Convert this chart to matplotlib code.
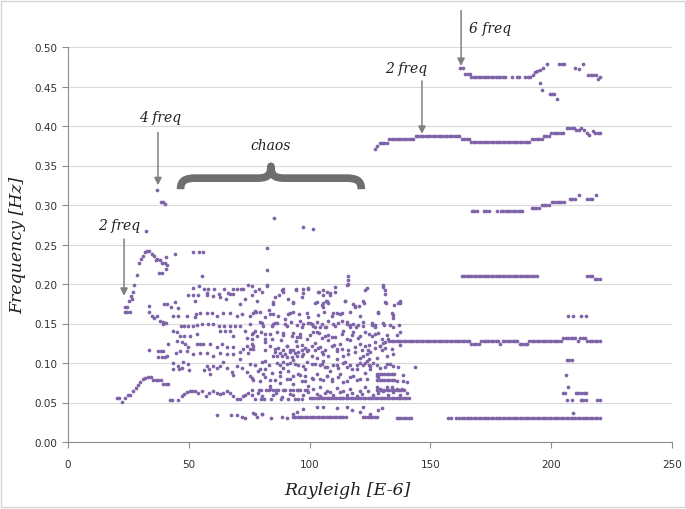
import numpy as np
import matplotlib
matplotlib.use("Agg")
import matplotlib.pyplot as plt
from matplotlib.path import Path
from matplotlib.patches import PathPatch, Rectangle

# ---------------- data (Rayleigh [E-6], Frequency [Hz]) ----------------
low_branch = [(20.1, 0.0555), (21.2, 0.0555), (22.5, 0.051), (23.6, 0.056), (24.7, 0.059),
              (25.7, 0.060), (27.0, 0.064), (28.1, 0.068), (29.0, 0.072), (29.8, 0.076),
              (30.9, 0.080), (31.9, 0.0815), (33.0, 0.082), (34.4, 0.082), (35.3, 0.079),
              (36.4, 0.079), (37.4, 0.079), (38.5, 0.078), (39.4, 0.074), (40.4, 0.074),
              (41.4, 0.0735)]

two_freq_branch = [(23.6, 0.164), (24.6, 0.164), (25.6, 0.164), (23.6, 0.171), (24.6, 0.171),
                   (25.1, 0.179), (25.9, 0.185), (26.5, 0.181), (26.8, 0.190), (27.5, 0.199),
                   (28.4, 0.211), (29.5, 0.226), (30.1, 0.232), (30.9, 0.236), (31.7, 0.240),
                   (32.6, 0.242), (33.7, 0.242), (34.6, 0.238), (35.6, 0.235), (36.4, 0.230),
                   (37.0, 0.232), (38.1, 0.230), (38.9, 0.227), (40.0, 0.226), (40.8, 0.224),
                   (40.6, 0.234), (37.8, 0.214), (38.9, 0.214), (40.7, 0.219), (44.4, 0.238),
                   (32.3, 0.267)]

four_freq_pts = [(36.7, 0.319), (38.4, 0.304), (39.2, 0.304), (40.3, 0.301)]

chaos_a = [(33.7, 0.1725), (33.7, 0.164), (34.6, 0.160), (35.6, 0.157), (36.9, 0.159), (38.0, 0.153),
           (39.2, 0.152), (40.4, 0.151), (51.6, 0.241), (54.3, 0.241), (55.7, 0.241), (55.6, 0.210),
           (51.6, 0.195), (54.4, 0.197), (56.3, 0.1935), (57.4, 0.189), (58.1, 0.1935), (60.5, 0.1935),
           (62.7, 0.187), (64.6, 0.1935), (66.4, 0.189), (68.5, 0.1935), (69.8, 0.1935), (71.5, 0.1935),
           (72.6, 0.1935), (74.7, 0.1985), (76.0, 0.197), (77.4, 0.191), (79.2, 0.1935),
           (39.7, 0.1745), (41.1, 0.1745), (42.5, 0.171), (44.3, 0.1775), (45.7, 0.170), (49.8, 0.186),
           (51.9, 0.186), (52.6, 0.179), (54.0, 0.186), (57.4, 0.186), (60.2, 0.185), (63.0, 0.183),
           (65.4, 0.181), (67.1, 0.187), (68.5, 0.187), (71.2, 0.1745), (73.3, 0.181), (76.0, 0.186),
           (77.4, 0.166), (43.6, 0.160), (45.7, 0.160), (49.1, 0.160), (52.6, 0.158), (53.0, 0.162),
           (54.7, 0.163), (57.4, 0.163), (59.5, 0.163), (61.6, 0.160), (64.3, 0.163), (67.1, 0.163),
           (69.8, 0.160), (71.9, 0.162), (75.3, 0.160), (77.8, 0.164), (39.5, 0.149), (46.6, 0.147),
           (48.0, 0.147), (49.8, 0.147), (51.6, 0.147), (53.6, 0.148), (55.4, 0.150), (58.1, 0.150),
           (60.2, 0.150), (62.7, 0.147), (64.6, 0.147), (67.1, 0.147), (69.1, 0.147), (71.2, 0.147),
           (73.3, 0.141), (76.0, 0.1365), (43.6, 0.141), (45.0, 0.139), (46.4, 0.134), (48.0, 0.134),
           (50.5, 0.134), (53.3, 0.1365), (63.0, 0.141), (65.0, 0.141), (67.1, 0.141), (68.5, 0.134),
           (74.0, 0.132), (76.0, 0.130), (78.1, 0.134), (41.5, 0.124), (45.0, 0.128), (47.1, 0.126),
           (48.4, 0.124), (49.8, 0.120), (53.3, 0.124), (54.7, 0.124), (56.0, 0.124), (58.8, 0.124),
           (61.6, 0.120), (63.6, 0.124), (65.7, 0.120), (68.5, 0.120), (71.2, 0.1135), (72.6, 0.1175),
           (74.0, 0.122), (76.0, 0.124), (33.7, 0.116), (37.4, 0.115), (38.4, 0.115), (39.5, 0.115),
           (40.9, 0.109), (44.7, 0.113), (46.4, 0.115), (49.1, 0.115), (51.9, 0.111), (54.7, 0.113),
           (57.4, 0.113), (60.2, 0.109), (63.0, 0.113), (65.7, 0.111), (68.5, 0.111), (71.2, 0.105),
           (74.7, 0.113), (76.7, 0.1175), (37.4, 0.108), (38.8, 0.108), (40.2, 0.108), (43.6, 0.1005),
           (45.7, 0.0965), (47.7, 0.1015), (49.8, 0.0985), (57.4, 0.0965), (58.5, 0.092), (60.2, 0.0965),
           (63.0, 0.0965), (65.7, 0.094), (67.8, 0.089), (69.8, 0.0965), (71.9, 0.094), (74.0, 0.088),
           (77.4, 0.097), (78.8, 0.090), (43.6, 0.092), (45.8, 0.092), (47.1, 0.094), (50.2, 0.091),
           (56.3, 0.091), (58.8, 0.086), (61.6, 0.094), (64.3, 0.1015), (68.5, 0.085), (76.0, 0.0815),
           (42.2, 0.053), (43.2, 0.053), (45.7, 0.053), (47.1, 0.0585), (48.0, 0.0605), (49.4, 0.0635),
           (50.3, 0.065), (51.2, 0.065), (52.6, 0.065), (54.0, 0.0625), (55.4, 0.065), (57.1, 0.0585),
           (58.5, 0.0625), (59.9, 0.065), (61.6, 0.0625), (63.0, 0.0605), (64.3, 0.0625), (65.7, 0.065),
           (67.1, 0.0625), (68.5, 0.0585), (69.8, 0.054), (71.2, 0.054), (72.3, 0.0585), (73.3, 0.059),
           (74.7, 0.0625), (76.0, 0.066), (77.4, 0.054), (78.8, 0.0625), (61.6, 0.034), (67.3, 0.034),
           (69.8, 0.034), (71.9, 0.032), (73.3, 0.030), (76.7, 0.037), (78.1, 0.032)]

chaos_b = [(85.4, 0.284), (97.4, 0.272), (82.5, 0.245), (82.5, 0.218), (82.5, 0.199),
           (85.7, 0.183), (89.1, 0.1935), (94.4, 0.194), (97.4, 0.1935), (99.5, 0.194), (93.3, 0.177),
           (96.7, 0.183), (84.7, 0.1745), (80.5, 0.190), (87.5, 0.186), (91.0, 0.181),
           (79.5, 0.164), (81.6, 0.158), (85.0, 0.162), (89.8, 0.156), (91.9, 0.163), (95.8, 0.162),
           (98.8, 0.163), (83.0, 0.167), (87.0, 0.160), (80.2, 0.151), (84.3, 0.147), (90.5, 0.147),
           (94.9, 0.148), (99.5, 0.151), (86.5, 0.151), (92.5, 0.152), (97.0, 0.145), (79.8, 0.139),
           (83.6, 0.1365), (86.4, 0.139), (89.1, 0.138), (92.6, 0.134), (96.0, 0.133), (81.5, 0.131),
           (88.0, 0.129), (94.5, 0.128), (81.6, 0.126), (85.7, 0.1175), (87.8, 0.113), (89.8, 0.111),
           (91.9, 0.114), (94.0, 0.113), (95.4, 0.114), (97.4, 0.112), (98.8, 0.115), (83.5, 0.121),
           (90.8, 0.122), (96.7, 0.123), (85.0, 0.109), (86.6, 0.109), (88.4, 0.109), (90.5, 0.108),
           (92.6, 0.108), (94.7, 0.109), (96.7, 0.109), (86.4, 0.100), (89.1, 0.1015), (91.9, 0.100),
           (94.0, 0.0985), (97.4, 0.0965), (98.8, 0.1015), (80.5, 0.101), (83.0, 0.097), (79.5, 0.092),
           (81.6, 0.092), (87.8, 0.088), (91.2, 0.090), (95.4, 0.086), (98.1, 0.083), (84.5, 0.087),
           (93.0, 0.084), (79.5, 0.0775), (83.6, 0.071), (87.8, 0.075), (90.5, 0.0795), (93.3, 0.073),
           (96.7, 0.0775), (99.5, 0.071), (81.5, 0.082), (85.5, 0.079), (80.2, 0.035), (84.0, 0.030),
           (88.5, 0.032), (90.5, 0.030), (97.4, 0.0415), (79.0, 0.0655), (80.0, 0.0655), (82.0, 0.0655),
           (83.0, 0.0655), (85.0, 0.0655), (86.0, 0.0655), (87.0, 0.0655), (89.0, 0.0655), (90.0, 0.0655),
           (92.0, 0.0655), (93.0, 0.0655), (95.0, 0.0655), (96.0, 0.0655), (98.0, 0.0655), (99.0, 0.0655),
           (80.0, 0.054), (81.0, 0.054), (84.0, 0.054), (88.0, 0.054), (91.0, 0.054), (94.0, 0.054),
           (95.0, 0.054), (97.0, 0.054), (85.0, 0.060), (93.0, 0.060)]

chaos_c = [(101.6, 0.269), (115.7, 0.2105), (115.7, 0.2055), (115.7, 0.2004), (110.6, 0.196),
           (123.7, 0.195), (130.3, 0.199), (131.3, 0.192), (103.7, 0.190), (105.4, 0.186), (107.1, 0.190),
           (108.5, 0.186), (102.3, 0.176), (105.4, 0.176), (105.7, 0.1705), (106.8, 0.179), (107.8, 0.176),
           (109.6, 0.163), (111.2, 0.163), (113.3, 0.163), (114.7, 0.179), (117.9, 0.1745), (118.8, 0.1705),
           (120.6, 0.172), (122.6, 0.176), (128.5, 0.163), (131.7, 0.176), (134.0, 0.163), (136.4, 0.176),
           (137.5, 0.176), (134.7, 0.157), (100.9, 0.149), (102.3, 0.145), (104.3, 0.145), (106.8, 0.145),
           (110.6, 0.147), (113.3, 0.153), (115.4, 0.150), (116.8, 0.148), (119.2, 0.145), (122.3, 0.147),
           (125.7, 0.148), (127.1, 0.148), (130.6, 0.148), (134.7, 0.145), (137.2, 0.148), (101.6, 0.139),
           (103.7, 0.138), (106.4, 0.1345), (109.2, 0.1325), (114.0, 0.141), (118.1, 0.139), (120.9, 0.1345),
           (124.4, 0.137), (128.5, 0.138), (132.6, 0.131), (136.1, 0.136), (137.5, 0.139), (102.3, 0.1253),
           (104.3, 0.1203), (107.8, 0.1287), (109.9, 0.1224), (111.2, 0.1181), (112.6, 0.1245),
           (116.8, 0.1287), (118.8, 0.1203), (120.9, 0.1245), (124.4, 0.1224), (127.1, 0.1266),
           (129.2, 0.1215), (131.3, 0.1194), (134.0, 0.1181), (137.5, 0.1224), (100.9, 0.1093),
           (103.0, 0.1059), (105.7, 0.1114), (107.8, 0.1093), (111.2, 0.105), (114.0, 0.1093),
           (116.1, 0.1114), (120.9, 0.1059), (122.3, 0.1093), (123.7, 0.1114), (124.4, 0.105),
           (127.8, 0.1059), (132.0, 0.1093), (102.3, 0.099), (105.0, 0.099), (106.4, 0.0947),
           (108.5, 0.0905), (111.2, 0.0969), (114.0, 0.1002), (115.4, 0.0947), (117.5, 0.0926),
           (119.5, 0.0969), (120.9, 0.1002), (123.0, 0.1002), (124.4, 0.0969), (125.0, 0.0926),
           (127.8, 0.0969), (131.3, 0.0947), (133.3, 0.099), (136.4, 0.0947), (143.7, 0.0947),
           (101.6, 0.0798), (104.3, 0.0798), (107.1, 0.0839), (109.2, 0.0777), (111.9, 0.0819),
           (114.0, 0.0764), (116.8, 0.0819), (119.5, 0.079), (123.7, 0.0798), (127.8, 0.079),
           (128.5, 0.0819), (136.1, 0.0777), (138.8, 0.0777), (140.2, 0.0764), (101.6, 0.0671),
           (104.3, 0.0692), (107.1, 0.065), (108.5, 0.0629), (111.2, 0.068), (114.0, 0.065),
           (116.8, 0.0671), (120.9, 0.065), (123.0, 0.0692), (127.8, 0.0692), (129.2, 0.0671),
           (132.0, 0.0692), (134.0, 0.0692), (136.1, 0.0671), (138.2, 0.0671), (103.0, 0.044),
           (105.7, 0.044), (111.2, 0.043), (115.4, 0.044), (122.3, 0.044), (129.9, 0.043),
           (129.2, 0.122), (130.3, 0.125), (131.2, 0.127)]

chaos_d = [(82.5, 0.197), (88.4, 0.192), (89.1, 0.190), (94.3, 0.193), (97.4, 0.189), (99.5, 0.195),
           (103.6, 0.190), (105.7, 0.192), (108.4, 0.188), (110.5, 0.190), (115.3, 0.199), (122.9, 0.193),
           (130.5, 0.196), (131.2, 0.187), (78.1, 0.178), (85.0, 0.177), (93.2, 0.176), (102.9, 0.177),
           (105.0, 0.173), (107.0, 0.179), (114.6, 0.179), (118.8, 0.172), (122.2, 0.178), (131.2, 0.177),
           (135.0, 0.174), (137.4, 0.179), (76.7, 0.163), (83.6, 0.162), (91.2, 0.162), (93.2, 0.165),
           (99.5, 0.158), (103.6, 0.161), (105.9, 0.164), (109.1, 0.160), (112.6, 0.162), (116.7, 0.165),
           (120.8, 0.160), (128.4, 0.164), (134.6, 0.161), (75.3, 0.150), (79.4, 0.152), (80.8, 0.147),
           (85.0, 0.149), (85.7, 0.151), (89.8, 0.150), (96.0, 0.153), (97.4, 0.149), (100.1, 0.151),
           (101.5, 0.147), (102.9, 0.152), (105.0, 0.150), (106.4, 0.146), (107.7, 0.153), (109.8, 0.149),
           (111.9, 0.151), (115.3, 0.152), (116.7, 0.146), (118.1, 0.150), (120.2, 0.148), (122.2, 0.152),
           (125.7, 0.151), (127.1, 0.146), (130.5, 0.151), (133.3, 0.148), (76.7, 0.138), (77.4, 0.140),
           (81.5, 0.137), (84.3, 0.131), (89.1, 0.135), (93.2, 0.138), (94.6, 0.133), (96.0, 0.137),
           (98.8, 0.131), (100.1, 0.135), (102.9, 0.139), (105.0, 0.132), (107.7, 0.136), (110.5, 0.133),
           (113.3, 0.137), (115.3, 0.130), (117.4, 0.136), (120.2, 0.132), (122.9, 0.139), (125.7, 0.134),
           (127.1, 0.137), (129.8, 0.131), (131.9, 0.136), (75.3, 0.118), (76.7, 0.121), (81.5, 0.116),
           (85.7, 0.114), (87.0, 0.119), (89.1, 0.116), (90.5, 0.121), (91.9, 0.117), (93.2, 0.116),
           (94.6, 0.121), (96.7, 0.116), (98.1, 0.119), (99.5, 0.116), (100.8, 0.122), (102.2, 0.116),
           (103.6, 0.119), (105.0, 0.114), (106.4, 0.116), (109.1, 0.121), (111.2, 0.115), (113.3, 0.118),
           (116.0, 0.116), (118.8, 0.114), (121.5, 0.116), (122.9, 0.121), (124.3, 0.117), (125.0, 0.114),
           (127.1, 0.119), (129.8, 0.116), (134.6, 0.112), (75.3, 0.099), (81.5, 0.103), (87.7, 0.097),
           (89.1, 0.094), (90.5, 0.099), (93.2, 0.104), (95.3, 0.097), (98.1, 0.093), (100.8, 0.099),
           (104.3, 0.097), (105.7, 0.103), (107.0, 0.095), (109.8, 0.098), (111.9, 0.094), (114.6, 0.101),
           (116.7, 0.097), (119.5, 0.093), (122.2, 0.098), (123.6, 0.103), (125.0, 0.096), (126.4, 0.100),
           (129.1, 0.094), (131.9, 0.099), (134.6, 0.096), (75.3, 0.083), (76.7, 0.079), (80.8, 0.086),
           (83.6, 0.078), (87.7, 0.083), (91.9, 0.080), (96.0, 0.085), (98.1, 0.077), (100.8, 0.081),
           (102.9, 0.086), (105.7, 0.078), (107.0, 0.083), (109.1, 0.080), (112.6, 0.086), (115.3, 0.077),
           (118.1, 0.084), (120.8, 0.080), (122.9, 0.087), (127.7, 0.083), (138.8, 0.085), (76.0, 0.060),
           (80.1, 0.058), (83.6, 0.067), (86.0, 0.062), (88.4, 0.057), (91.9, 0.061), (94.6, 0.066),
           (97.4, 0.060), (99.5, 0.063), (102.9, 0.061), (104.3, 0.058), (106.4, 0.062), (109.8, 0.059),
           (112.6, 0.063), (115.3, 0.059), (117.4, 0.062), (119.5, 0.058), (121.5, 0.061), (124.3, 0.064),
           (126.4, 0.059), (128.4, 0.062), (130.5, 0.065), (132.6, 0.060), (134.6, 0.063), (137.4, 0.060),
           (140.2, 0.062), (77.4, 0.036), (80.1, 0.036), (93.2, 0.036), (94.6, 0.038), (117.4, 0.040),
           (120.8, 0.038), (125.0, 0.036), (128.4, 0.041)]

# dense rows of the chaotic regime: (x_start, x_end, frequency), one point per Rayleigh unit
chaos_rows = [(100, 141, 0.0553), (93, 115, 0.032), (122, 128, 0.032), (136, 142, 0.031),
              (129, 135, 0.079), (128, 135, 0.0865), (128, 139, 0.066)]

# periodic regime lines: (x_start, x_end, frequency)
line_013 = [(133, 166, 0.128), (167, 170, 0.124), (171, 178, 0.128), (179, 179, 0.124),
            (180, 186, 0.128), (187, 190, 0.124), (191, 204, 0.128), (205, 210, 0.132),
            (211, 211, 0.128), (212, 214, 0.132), (215, 220, 0.128)]
line_038 = [(127.1, 127.1, 0.371), (128.1, 128.1, 0.375), (129, 132, 0.379), (133, 143, 0.3835),
            (144, 162, 0.3877), (163, 166, 0.3835), (167, 191, 0.3793), (192, 196, 0.3835),
            (197, 199, 0.3877), (200, 205, 0.391), (206.5, 209.5, 0.398), (210.3, 211.3, 0.395),
            (212.4, 212.4, 0.398), (213.6, 213.6, 0.395), (214.7, 214.7, 0.391), (215.8, 215.8, 0.388),
            (217.2, 217.2, 0.394), (218.2, 220.2, 0.391)]
line_046 = [(162.3, 163.3, 0.4734), (164.4, 166.4, 0.4658), (167, 181, 0.4616), (183.7, 183.7, 0.4616),
            (185.8, 186.8, 0.4616), (189.2, 191.2, 0.4616), (192.4, 192.4, 0.464), (193.4, 193.4, 0.468),
            (194.3, 194.3, 0.470), (195.4, 195.4, 0.471), (196.5, 196.5, 0.474), (198.2, 198.2, 0.478),
            (203.4, 205.4, 0.478), (209.9, 209.9, 0.474), (211.3, 211.3, 0.472), (213.1, 213.1, 0.478),
            (215.4, 218.4, 0.464), (219.2, 219.2, 0.459), (220.3, 220.3, 0.462), (195.2, 195.2, 0.454),
            (196.1, 196.1, 0.446), (199.3, 201.3, 0.441), (202.3, 202.3, 0.434)]
line_021 = [(163, 194.6, 0.210), (215, 217, 0.210), (218, 220.5, 0.206)]
line_029 = [(167.1, 169.8, 0.292), (172.2, 174.9, 0.292), (177.4, 177.4, 0.292), (179.1, 188.9, 0.292),
            (191.9, 195.3, 0.296), (196, 199.5, 0.300), (200.2, 205.7, 0.304), (207.8, 210.5, 0.307),
            (211.3, 211.3, 0.3125), (215, 217.4, 0.307), (218.4, 218.4, 0.3125)]
line_003 = [(157.4, 158.4, 0.031), (160.4, 160.4, 0.031), (162, 220.5, 0.031)]
scattered_right = [(207.1, 0.160), (209.2, 0.160), (212.2, 0.160), (214.2, 0.160),
                   (206.4, 0.104), (207.4, 0.104), (208.5, 0.104), (206.1, 0.0846), (207.1, 0.069),
                   (204.7, 0.0614), (205.7, 0.0614), (210.1, 0.0614), (211.2, 0.0614), (212.3, 0.0614),
                   (213.4, 0.0614), (214.4, 0.0614), (206.4, 0.0534), (208.5, 0.0534), (212.2, 0.0534),
                   (213.3, 0.0534), (214.4, 0.0534), (219.1, 0.0534), (220.2, 0.0534), (209.1, 0.037)]

# ---------------- build point arrays ----------------
def expand_runs(runs):
    xs, ys = [], []
    for x0, x1, f in runs:
        xx = np.arange(x0, x1 + 0.01, 1.0)
        xs.extend(xx)
        ys.extend([f] * len(xx))
    return xs, ys

pts = (low_branch + two_freq_branch + four_freq_pts + chaos_a + chaos_b + chaos_c + chaos_d
       + scattered_right)
X = [p[0] for p in pts]
Y = [p[1] for p in pts]
for runs in (chaos_rows, line_013, line_038, line_046, line_021, line_029, line_003):
    xs, ys = expand_runs(runs)
    X.extend(xs)
    Y.extend(ys)

# ---------------- figure ----------------
W, H = 686, 510
fig = plt.figure(figsize=(W / 100, H / 100), dpi=100)
fig.patches.append(Rectangle((0.002, 0.004), 0.996, 0.992, transform=fig.transFigure,
                             fill=False, edgecolor='#D4D4D4', linewidth=1.0))
ax = fig.add_axes([68 / W, 1 - 443 / H, 604 / W, 395 / H])

ax.scatter(X, Y, s=7, color='#7F63A8', linewidths=0, zorder=3)

ax.set_xlim(0, 250)
ax.set_ylim(0, 0.5)
ax.set_xticks(np.arange(0, 251, 50))
ax.set_yticks(np.arange(0, 0.501, 0.05))
ax.set_yticklabels([f"{v:.2f}" for v in np.arange(0, 0.501, 0.05)])
ax.grid(axis='y', color='#DADADA', linewidth=0.8, zorder=0)
ax.set_axisbelow(True)
for s in ('top', 'right'):
    ax.spines[s].set_visible(False)
for s in ('left', 'bottom'):
    ax.spines[s].set_color('#8C8C8C')
    ax.spines[s].set_linewidth(0.8)
ax.tick_params(axis='both', colors='#8C8C8C', labelcolor='#303030', labelsize=7.5,
               length=4, width=0.8, direction='out')
ax.tick_params(axis='x', pad=8)
for lab in ax.get_xticklabels() + ax.get_yticklabels():
    lab.set_family('DejaVu Sans')

lab_font = dict(family='DejaVu Serif', style='italic', size=12.5, color='#202020')
fig.text(347 / W, 1 - 491 / H, 'Rayleigh [E-6]', ha='center', va='center', **lab_font)
fig.text(18 / W, 1 - 245 / H, 'Frequency [Hz]', ha='center', va='center', rotation=90, **lab_font)

# ---------------- annotations ----------------
ann_font = dict(family='DejaVu Serif', style='italic', size=10, color='#202020')
arrow_kw = dict(arrowstyle='-|>', color='#808080', lw=1.1, mutation_scale=11,
                shrinkA=0, shrinkB=0)

def note(text, tx, ty, ax_x, y_from, y_to):
    ax.text(tx, ty, text, ha='center', va='center', clip_on=False, **ann_font)
    ax.annotate('', xy=(ax_x, y_to), xytext=(ax_x, y_from), arrowprops=arrow_kw,
                annotation_clip=False)

note('2 freq', 21.1, 0.275, 23.2, 0.257, 0.185)
note('4 freq', 38.1, 0.411, 37.25, 0.392, 0.325)
note('2 freq', 139.9, 0.4734, 146.5, 0.457, 0.390)
note('6 freq', 174.7, 0.524, 162.7, 0.546, 0.476)
ax.text(84.0, 0.376, 'chaos', ha='center', va='center', **ann_font)

# curly brace over the chaotic regime
verts = [(46.6, 0.320), (46.6, 0.331), (48.5, 0.334), (53.0, 0.334),
         (78.0, 0.334),
         (82.0, 0.334), (84.0, 0.336), (84.0, 0.349),
         (84.0, 0.336), (86.0, 0.334), (90.0, 0.334),
         (115.0, 0.334),
         (119.5, 0.334), (121.4, 0.331), (121.4, 0.320)]
codes = [Path.MOVETO, Path.CURVE4, Path.CURVE4, Path.CURVE4,
         Path.LINETO,
         Path.CURVE4, Path.CURVE4, Path.CURVE4,
         Path.CURVE4, Path.CURVE4, Path.CURVE4,
         Path.LINETO,
         Path.CURVE4, Path.CURVE4, Path.CURVE4]
brace = PathPatch(Path(verts, codes), facecolor='none', edgecolor='#6E6E6E', linewidth=5.5,
                  capstyle='butt', joinstyle='round', zorder=4)
ax.add_patch(brace)

fig.savefig('out.png', dpi=100)
